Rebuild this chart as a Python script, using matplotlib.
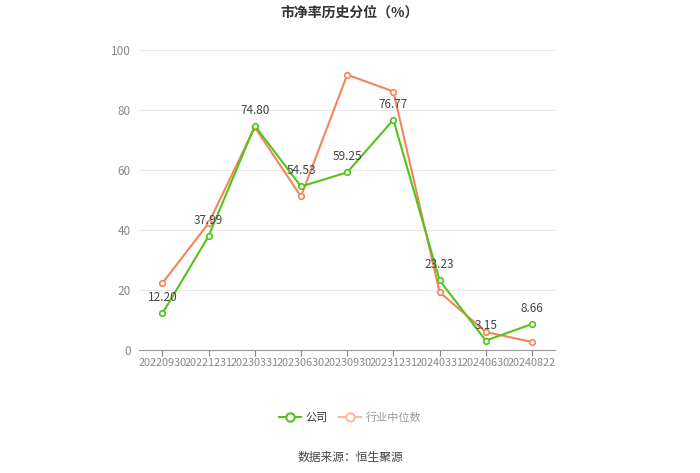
import numpy as np
import matplotlib.pyplot as plt
from matplotlib.lines import Line2D

plt.rcParams['font.family'] = ['Noto Sans CJK SC', 'DejaVu Sans']

dates = ["20220930", "20221231", "20230331", "20230630", "20230930",
         "20231231", "20240331", "20240630", "20240822"]
company = [12.20, 37.99, 74.80, 54.53, 59.25, 76.77, 23.23, 3.15, 8.66]
industry = [22.3, 42.3, 74.3, 51.2, 91.8, 86.2, 19.3, 6.0, 2.7]

GREEN = '#52c41a'
ORANGE = '#f5845c'

fig = plt.figure(figsize=(7, 4.73), dpi=100)
ax = fig.add_axes([0.199, 0.26, 0.594, 0.634])

x = np.arange(len(dates))
ax.plot(x, industry, color=ORANGE, lw=1.5, marker='o', ms=4,
        mfc='white', mec=ORANGE, mew=1.2, zorder=3)
ax.plot(x, company, color=GREEN, lw=1.5, marker='o', ms=4,
        mfc='white', mec=GREEN, mew=1.2, zorder=4)

for xi, v in zip(x, company):
    ax.text(xi, v + 3, f"{v:.2f}", ha='center', va='bottom',
            fontsize=8.5, color='#444444', zorder=5)

ax.set_xlim(-0.5, len(dates) - 0.5)
ax.set_ylim(0, 100)
ax.set_yticks([0, 20, 40, 60, 80, 100])
ax.set_xticks(x)
ax.set_xticklabels(dates)
ax.tick_params(axis='x', labelsize=7.8, colors='#888888', length=4,
               pad=2, width=0.8)
ax.tick_params(axis='y', labelsize=8.5, colors='#888888', length=0, pad=6)
ax.grid(axis='y', color='#e8e8e8', lw=0.8)
ax.set_axisbelow(True)
for s in ['left', 'right', 'top']:
    ax.spines[s].set_visible(False)
ax.spines['bottom'].set_color('#999999')

fig.text(0.5, 0.974, "市净率历史分位（%）", ha='center', va='center',
         fontsize=10, fontweight='bold', color='#333333')

handles = [Line2D([], [], color=GREEN, lw=1.5, marker='o', ms=6,
                  mfc='white', mec=GREEN, mew=1.5),
           Line2D([], [], color='#f8b9a0', lw=1.5, marker='o', ms=6,
                  mfc='white', mec='#f8b9a0', mew=1.5)]
leg = fig.legend(handles, ["公司", "行业中位数"], loc='center',
                 bbox_to_anchor=(0.5, 0.118), ncol=2, frameon=False,
                 fontsize=8, handlelength=2, columnspacing=1.0,
                 handletextpad=0.4)
leg.get_texts()[0].set_color('#333333')
leg.get_texts()[1].set_color('#999999')

fig.text(0.5, 0.032, "数据来源：恒生聚源", ha='center', va='center',
         fontsize=8.5, color='#444444')

fig.savefig("out.png", dpi=100)
